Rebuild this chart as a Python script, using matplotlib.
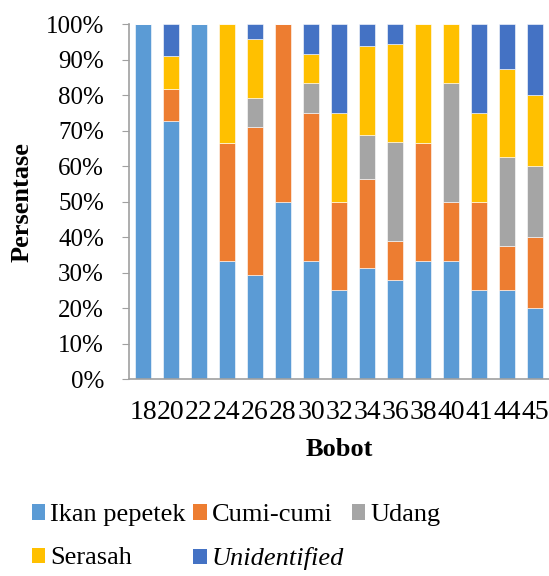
import matplotlib
matplotlib.use("Agg")
import matplotlib.pyplot as plt
from matplotlib.patches import Patch
import numpy as np

plt.rcParams['font.family'] = ['Liberation Serif', 'DejaVu Serif']

categories = ['18', '20', '22', '24', '26', '28', '30', '32', '34', '36', '38', '40', '41', '44', '45']
ikan_pepetek = [100, 72.7, 100, 33.3, 29.2, 50, 33.3, 25, 31.25, 27.8, 33.3, 33.3, 25, 25, 20]
cumi_cumi    = [0, 9.1, 0, 33.3, 41.7, 50, 41.7, 25, 25, 11.1, 33.3, 16.7, 25, 12.5, 20]
udang        = [0, 0, 0, 0, 8.3, 0, 8.3, 0, 12.5, 27.8, 0, 33.3, 0, 25, 20]
serasah      = [0, 9.1, 0, 33.4, 16.7, 0, 8.3, 25, 25, 27.7, 33.4, 16.7, 25, 25, 20]
unidentified = [0, 9.1, 0, 0, 4.1, 0, 8.4, 25, 6.25, 5.6, 0, 0, 25, 12.5, 20]

series = [
    ('Ikan pepetek', ikan_pepetek, '#5B9BD5'),
    ('Cumi-cumi', cumi_cumi, '#ED7D31'),
    ('Udang', udang, '#A5A5A5'),
    ('Serasah', serasah, '#FFC000'),
    ('Unidentified', unidentified, '#4472C4'),
]

fig = plt.figure(figsize=(5.49, 5.76), dpi=100)
ax = fig.add_axes([0.235, 0.342, 0.765, 0.616])

x = np.arange(len(categories))
bottom = np.zeros(len(categories))
handles = {}
for name, vals, col in series:
    v = np.array(vals, dtype=float)
    ax.bar(x, v, bottom=bottom, width=0.57, color=col, edgecolor='white', linewidth=0.4)
    bottom += v
    handles[name] = Patch(facecolor=col, edgecolor='none')

ax.set_xlim(-0.5, len(categories) - 0.5)
ax.set_ylim(0, 100)
ax.set_yticks(np.arange(0, 101, 10))
ax.set_yticklabels([f'{t}%' for t in range(0, 101, 10)], fontsize=18)
ax.set_xticks(x)
ax.set_xticklabels(categories, fontsize=20)
ax.tick_params(axis='x', length=0, pad=15)
ax.tick_params(axis='y', length=5, color='#A0A0A0', pad=13)

for s in ['top', 'right']:
    ax.spines[s].set_visible(False)
for s in ['left', 'bottom']:
    ax.spines[s].set_color('#A0A0A0')
    ax.spines[s].set_linewidth(1.2)

ax.set_xlabel('Bobot', fontsize=19, fontweight='bold')
ax.set_ylabel('Persentase', fontsize=19, fontweight='bold')
ax.xaxis.set_label_coords(0.5, -0.2)
ax.yaxis.set_label_coords(-0.255, 0.5)
ax.xaxis.label.set_verticalalignment('center')
ax.yaxis.label.set_verticalalignment('center')

order = ['Ikan pepetek', 'Serasah', 'Cumi-cumi', 'Unidentified', 'Udang']
leg = fig.legend([handles[n] for n in order], order, ncol=3, loc='center',
                 bbox_to_anchor=(0.43, 0.067), frameon=False, fontsize=19,
                 handlelength=0.5, handleheight=0.5, handletextpad=0.2,
                 columnspacing=0.28, labelspacing=0.8, borderpad=0, borderaxespad=0)
for t in leg.get_texts():
    if t.get_text() == 'Unidentified':
        t.set_style('italic')

fig.savefig('out.png', dpi=100)
